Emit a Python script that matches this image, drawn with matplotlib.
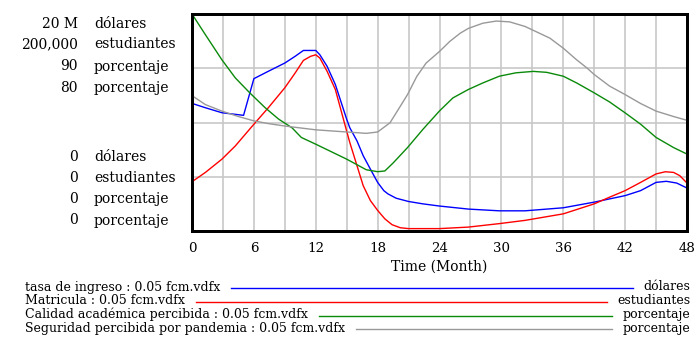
import matplotlib
matplotlib.use("Agg")
import matplotlib.pyplot as plt
from matplotlib.lines import Line2D

plt.rcParams['font.family'] = ['DejaVu Serif']

# ---------------- data ----------------
months_ingreso = [0, 1.3, 2.9, 5, 6, 7.4, 9, 10, 10.8, 12, 12.4, 13.1, 13.9, 15, 15.3, 16, 16.6, 17.3,
                  18, 18.6, 19, 19.8, 21, 22.4, 24, 26.8, 29.8, 32.3, 36, 39, 42, 43.5, 45, 46, 47, 48]
ingreso = [11.76e6, 11.36e6, 10.90e6, 10.66e6, 14.04e6, 14.72e6, 15.48e6, 16.10e6, 16.64e6, 16.64e6,
           16.24e6, 15.18e6, 13.50e6, 10.30e6, 9.52e6, 8.30e6, 6.94e6, 5.70e6,
           4.48e6, 3.72e6, 3.42e6, 3.02e6, 2.72e6, 2.50e6, 2.30e6, 2.02e6, 1.86e6, 1.86e6,
           2.14e6, 2.66e6, 3.26e6, 3.72e6, 4.48e6, 4.58e6, 4.42e6, 3.96e6]

months_matricula = [0, 1.3, 2.9, 4.2, 6, 7.4, 9, 10, 10.8, 11.5, 12, 12.4, 13.1, 13.9, 15, 15.3, 16, 16.6,
                    17.3, 18, 18.7, 19.4, 20.2, 21, 24, 26.8, 29.8, 32.3, 36, 39, 40.5, 42, 43.5, 45,
                    45.9, 46.7, 47.3, 48]
matricula = [45400, 54000, 66200, 78400, 98400, 113600, 132000, 145600, 157200, 161000, 162400, 159400,
             147200, 130400, 92000, 81600, 60200, 41800, 28000, 19000, 11200, 5800, 3000, 2200, 2200,
             3600, 6800, 9800, 15800, 25000, 31200, 37200, 44800, 52600, 54600, 54000, 51000, 44200]

months_calidad = [0, 1.3, 2.9, 4.2, 5.6, 7.1, 8.4, 9.7, 10.6, 12, 15, 16.9, 18, 18.7, 19.5, 20.9, 22.4,
                  24, 25.3, 26.8, 28.2, 29.8, 31.4, 33.1, 34.4, 36, 37.3, 39, 40.5, 42, 43.5, 45, 46.7, 48]
calidad = [90, 81.4, 71.0, 63.5, 57.3, 51.1, 46.4, 42.8, 38.8, 36.0, 29.8, 25.4, 24.6, 24.9, 28.2, 34.6,
           42.2, 49.8, 55.2, 58.7, 61.4, 64.2, 65.6, 66.2, 65.8, 64.2, 61.4, 57.3, 53.5, 49.0, 44.3,
           38.8, 34.6, 31.9]

months_seguridad = [0, 1.3, 2.9, 4.5, 6, 7.4, 9, 12, 15, 16.9, 18, 19.2, 20.2, 20.9, 21.8, 22.7, 24, 25,
                    26, 26.8, 28.2, 29.5, 30.8, 32.3, 34.7, 36, 37.3, 38.3, 39, 40.5, 42, 43.5, 45, 46.7, 48]
seguridad = [49.9, 46.6, 44.2, 42.2, 40.6, 39.6, 38.7, 37.3, 36.5, 36.0, 36.5, 39.9, 46.0, 50.3, 57.0,
             61.9, 66.2, 69.9, 72.9, 74.7, 76.6, 77.4, 77.1, 75.4, 71.1, 67.4, 63.1, 60.1, 57.7, 53.4,
             50.3, 47.0, 44.2, 42.2, 40.8]

axis_max = [20e6, 200000, 90, 80]
max_labels = ["20 M", "200,000", "90", "80"]
min_labels = ["0", "0", "0", "0"]
units = ["dólares", "estudiantes", "porcentaje", "porcentaje"]
legend_labels = ["tasa de ingreso : 0.05 fcm.vdfx",
                 "Matricula : 0.05 fcm.vdfx",
                 "Calidad académica percibida : 0.05 fcm.vdfx",
                 "Seguridad percibida por pandemia : 0.05 fcm.vdfx"]
colors = ["#0000ff", "#ff0000", "#0a8a0a", "#999999"]
x_ticks = [0, 6, 12, 18, 24, 30, 36, 42, 48]

series = [(months_ingreso, ingreso), (months_matricula, matricula),
          (months_calidad, calidad), (months_seguridad, seguridad)]

# ---------------- figure ----------------
W, H = 694, 337
fig = plt.figure(figsize=(W / 100, H / 100), dpi=100)

def fx(px):
    return px / W

def fy(py):
    return 1 - py / H

left, right, top, bottom = 192, 687, 14, 231
ax = fig.add_axes([fx(left), fy(bottom), fx(right - left), (bottom - top) / H])
ax.set_xlim(0, 48)
ax.set_ylim(0, axis_max[0])
ax.set_xticks(x_ticks)
ax.set_xticks(range(0, 49, 3), minor=True)
ax.set_yticks([axis_max[0] * k / 4 for k in range(5)])
ax.set_yticklabels([])
ax.tick_params(axis='both', which='both', length=0)
ax.tick_params(axis='x', labelsize=9.6, pad=8)
ax.grid(True, which='both', color='#c8c8c8', linewidth=1.2)
ax.set_axisbelow(True)
for sp in ax.spines.values():
    sp.set_linewidth(2.0)
    sp.set_color('black')
    sp.set_zorder(10)

for i, ((mx, vals), vmax, col) in enumerate(zip(series, axis_max, colors)):
    if i == 0:
        a = ax
    else:
        a = ax.twinx()
        a.set_ylim(0, vmax)
        a.axis('off')
    a.set_xlim(0, 48)
    a.plot(mx, vals, color=col, linewidth=1.0, clip_on=True, zorder=3)

# frame on top
frame = fig.add_axes(ax.get_position(), frameon=True)
frame.patch.set_visible(False)
frame.set_xticks([]); frame.set_yticks([])
for sp in frame.spines.values():
    sp.set_linewidth(2.0)
    sp.set_color('black')

# left axis labels
top_rows = [24, 44.5, 66.5, 88]
bot_rows = [157, 178.3, 199.3, 220.5]
for i in range(4):
    fig.text(fx(78), fy(top_rows[i]), max_labels[i], ha='right', va='center', fontsize=10)
    fig.text(fx(94), fy(top_rows[i]), units[i], ha='left', va='center', fontsize=10)
    fig.text(fx(78), fy(bot_rows[i]), min_labels[i], ha='right', va='center', fontsize=10)
    fig.text(fx(94), fy(bot_rows[i]), units[i], ha='left', va='center', fontsize=10)

fig.text(fx((left + right) / 2), fy(267), "Time (Month)", ha='center', va='center', fontsize=10)

# legend
renderer = fig.canvas.get_renderer()
for i in range(4):
    yy = 287 + 13.8 * i
    t1 = fig.text(fx(25), fy(yy), legend_labels[i], ha='left', va='center', fontsize=9.0)
    t2 = fig.text(fx(690), fy(yy), units[i], ha='right', va='center', fontsize=9.0)
    b1 = t1.get_window_extent(renderer)
    b2 = t2.get_window_extent(renderer)
    x0 = b1.x1 + 11
    x1 = b2.x0 - 10
    fig.add_artist(Line2D([x0 / W, x1 / W], [fy(yy + 1), fy(yy + 1)],
                          transform=fig.transFigure, color=colors[i], linewidth=1.0))

fig.savefig("out.png", dpi=100)
